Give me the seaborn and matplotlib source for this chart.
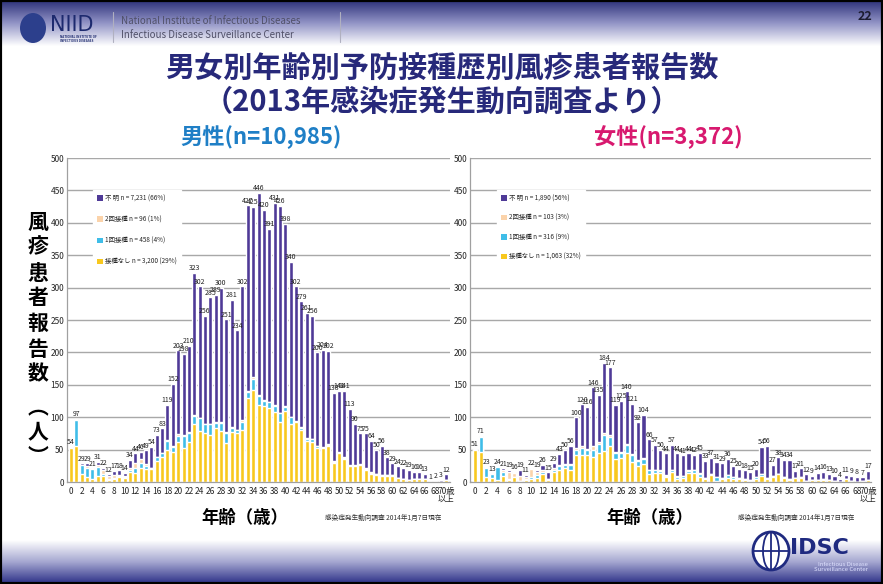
import numpy as np
import matplotlib
matplotlib.use("Agg")
import matplotlib.pyplot as plt
from matplotlib.patches import Patch, Ellipse, Rectangle
from matplotlib.lines import Line2D
from matplotlib.colors import LinearSegmentedColormap
import seaborn as sns

sns.set_theme(style="white")
plt.rcParams['font.family'] = ['Noto Sans CJK JP', 'DejaVu Sans']

# ---- data (年齢 0..69, 70歳以上) ----
ages = [str(a) for a in range(70)] + ["70+"]
tick_labels = [str(a) for a in range(0, 70, 2)] + ["70歳\n以上"]

# 男性
male_total = [54, 97, 29, 29, 21, 31, 22, 12, 17, 18, 14, 34, 44, 46, 49, 54, 73, 83, 119, 152,
              203, 198, 210, 323, 302, 256, 285, 289, 300, 251, 281, 234, 302, 427, 425, 446, 420, 391, 431, 426,
              398, 340, 302, 279, 261, 256, 200, 204, 202, 138, 141, 141, 113, 90, 75, 75, 64, 50, 56, 38,
              29, 24, 22, 19, 16, 16, 13, 1, 2, 3, 12]
male_none = [53, 56, 12, 8, 5, 10, 9, 3, 4, 7, 6, 16, 14, 22, 20, 20, 33, 38, 50, 47,
             62, 53, 62, 89, 78, 75, 72, 83, 79, 60, 77, 75, 81, 129, 142, 119, 118, 114, 108, 92,
             110, 89, 92, 80, 63, 61, 52, 52, 55, 30, 44, 36, 24, 24, 26, 19, 12, 11, 10, 10,
             10, 6, 5, 3, 4, 4, 5, 0, 1, 0, 3]
male_one = [1, 40, 15, 14, 15, 13, 3, 1, 2, 2, 2, 2, 8, 7, 5, 2, 5, 6, 13, 7,
            9, 18, 13, 13, 20, 14, 17, 8, 12, 16, 7, 5, 12, 10, 17, 14, 7, 9, 10, 14,
            6, 11, 1, 4, 4, 5, 3, 1, 2, 1, 1, 1, 1, 1, 1, 1, 2, 1, 1, 1,
            1, 0, 0, 0, 0, 0, 0, 0, 0, 0, 0]
male_two = [0, 0, 0, 2, 0, 3, 7, 5, 5, 2, 1, 4, 8, 6, 3, 0, 1, 1, 2, 2,
            3, 1, 2, 2, 1, 1, 1, 1, 1, 1, 1, 1, 3, 1, 3, 1, 1, 1, 1, 1,
            1, 1, 1, 1, 1, 1, 1, 1, 1, 1, 1, 1, 1, 1, 1, 1, 1, 0, 0, 0,
            0, 0, 0, 0, 0, 0, 0, 0, 0, 0, 0]

# 女性
female_total = [51, 71, 23, 13, 24, 21, 19, 16, 19, 11, 22, 19, 26, 15, 29, 43, 50, 56, 100, 120,
                116, 146, 135, 184, 177, 119, 125, 140, 121, 92, 104, 66, 57, 50, 44, 57, 44, 41, 44, 42,
                45, 33, 37, 31, 29, 36, 25, 20, 18, 15, 20, 54, 56, 27, 38, 34, 34, 17, 21, 12,
                9, 14, 16, 13, 10, 4, 11, 9, 8, 7, 17]
female_none = [49, 47, 7, 6, 3, 10, 3, 7, 2, 3, 5, 6, 13, 3, 15, 19, 22, 19, 42, 41,
               41, 38, 45, 48, 55, 35, 37, 44, 31, 25, 28, 12, 14, 14, 8, 16, 5, 6, 14, 14,
               8, 4, 11, 2, 4, 6, 5, 4, 3, 2, 5, 10, 4, 7, 12, 6, 3, 6, 6, 1,
               3, 3, 3, 3, 2, 0, 4, 2, 0, 2, 3]
female_one = [1, 23, 15, 6, 20, 6, 1, 0, 0, 2, 3, 5, 2, 2, 4, 6, 5, 7, 8, 12,
              8, 12, 14, 24, 15, 10, 8, 13, 10, 8, 8, 6, 5, 3, 2, 2, 3, 4, 3, 4,
              5, 2, 2, 5, 2, 5, 3, 2, 1, 1, 2, 3, 2, 3, 1, 2, 2, 0, 1, 0,
              0, 0, 1, 0, 0, 0, 0, 0, 0, 0, 0]
female_two = [0, 0, 0, 0, 0, 2, 12, 7, 7, 3, 12, 4, 3, 0, 2, 1, 1, 2, 3, 3,
              2, 5, 3, 4, 3, 2, 2, 2, 2, 1, 1, 1, 0, 1, 1, 1, 2, 0, 1, 1,
              1, 0, 0, 0, 0, 0, 0, 0, 0, 0, 0, 0, 0, 0, 0, 0, 0, 0, 0, 0,
              0, 0, 0, 0, 0, 0, 0, 0, 0, 0, 0]

male_legend = ["不 明 n = 7,231 (66%)", "2回接種 n = 96 (1%)", "1回接種 n = 458 (4%)", "接種なし n = 3,200 (29%)"]
female_legend = ["不 明 n = 1,890 (56%)", "2回接種 n = 103 (3%)", "1回接種 n = 316 (9%)", "接種なし n = 1,063 (32%)"]

c_unknown = "#4f3a97"
c_two = "#fbd3aa"
c_one = "#3fbde8"
c_none = "#f8c81e"
navy = "#27297a"

W, H = 883, 584
def fx(x): return x / W
def fy(y): return 1 - y / H

fig = plt.figure(figsize=(W / 100, H / 100), dpi=100, facecolor="white")

# ヘッダー / フッターのグラデーション
grad = np.linspace(0, 1, 256).reshape(-1, 1)
hdr = fig.add_axes([0, fy(46), 1, 46 / H])
hdr.imshow(grad, aspect="auto", extent=[0, 1, 0, 1],
           cmap=LinearSegmentedColormap.from_list("h", ["#2b2f78", "#9294c6", "#ffffff"]))
hdr.axis("off")
ftr = fig.add_axes([0, 0, 1, 44 / H])
ftr.imshow(grad, aspect="auto", extent=[0, 1, 0, 1],
           cmap=LinearSegmentedColormap.from_list("f", ["#ffffff", "#a4a6d0", "#2a2e86"]))
ftr.axis("off")
fig.add_artist(Rectangle((0, 0), 1, 1, transform=fig.transFigure, fill=False,
                         edgecolor="black", linewidth=3))

# NIID ロゴ
fig.add_artist(Ellipse((fx(33), fy(28)), 26 / W, 30 / H, transform=fig.transFigure,
                       facecolor="#2c3f8c", edgecolor="none"))
fig.text(fx(50), fy(25), "NIID", fontsize=15, color="#1d2a6e", va="center", ha="left",
         family="DejaVu Sans")
fig.text(fx(60), fy(39), "NATIONAL INSTITUTE OF\nINFECTIOUS DISEASES", fontsize=2.2,
         color="#1d2a6e", va="center", ha="left", fontweight="bold")
fig.add_artist(Line2D([fx(113), fx(113)], [fy(12), fy(42)], transform=fig.transFigure,
                      color="#b0b0c0", linewidth=0.8))
fig.add_artist(Line2D([fx(340), fx(340)], [fy(12), fy(42)], transform=fig.transFigure,
                      color="#b0b0c0", linewidth=0.8))
fig.text(fx(121), fy(21), "National Institute of Infectious Diseases", fontsize=7,
         color="#505068", va="center", ha="left")
fig.text(fx(121), fy(35), "Infectious Disease Surveillance Center", fontsize=7,
         color="#505068", va="center", ha="left")
fig.text(fx(872), fy(16), "22", fontsize=9, color="#1c1c30", fontweight="bold",
         va="center", ha="right")

# タイトル
fig.text(0.5, fy(68), "男女別年齢別予防接種歴別風疹患者報告数", fontsize=21, fontweight="bold",
         color=navy, ha="center", va="center")
fig.text(0.5, fy(102), "（2013年感染症発生動向調査より）", fontsize=21, fontweight="bold",
         color=navy, ha="center", va="center")
fig.text(fx(261), fy(137), "男性(n=10,985)", fontsize=16, fontweight="bold",
         color="#1f7fc6", ha="center", va="center")
fig.text(fx(668), fy(137), "女性(n=3,372)", fontsize=16, fontweight="bold",
         color="#d8196f", ha="center", va="center")

# 縦書きの軸ラベル
ylab_chars = ["風", "疹", "患", "者", "報", "告", "数", "︵", "人", "︶"]
ylab_pos = [222, 247, 273, 298, 323, 349, 374, 408, 432, 456]
for ch, yy in zip(ylab_chars, ylab_pos):
    fig.text(fx(38), fy(yy), ch, fontsize=15, fontweight="bold", color="black",
             ha="center", va="center")

narrow = ["Liberation Sans Narrow", "Noto Sans CJK JP"]


def draw_panel(ax, total, none, one, two, labels, xlim, spacing):
    none = np.array(none)
    one = np.array(one)
    two = np.array(two)
    # 積み上げ: 背面から順に描く
    sns.barplot(x=ages, y=total, order=ages, color=c_unknown, width=0.74,
                saturation=1, ax=ax, zorder=2)
    sns.barplot(x=ages, y=none + one + two, order=ages, color=c_two, width=0.74,
                saturation=1, ax=ax, zorder=2)
    sns.barplot(x=ages, y=none + one, order=ages, color=c_one, width=0.74,
                saturation=1, ax=ax, zorder=2)
    sns.barplot(x=ages, y=none, order=ages, color=c_none, width=0.74,
                saturation=1, ax=ax, zorder=2)
    ax.bar_label(ax.containers[0], fontsize=5, padding=0.5, family=narrow, color="#222222")

    ax.set_ylim(0, 500)
    ax.set_xlim(*xlim)
    ax.set_yticks(range(0, 501, 50))
    ax.set_xticks(range(0, 71, 2))
    ax.set_xticklabels(tick_labels, family=narrow, fontsize=6, linespacing=0.9)
    for t in ax.get_yticklabels():
        t.set_family(narrow)
    ax.tick_params(axis="y", labelsize=6, length=0, pad=2)
    ax.tick_params(axis="x", labelsize=6, length=2, pad=1.5, color="#999999")
    ax.yaxis.grid(True, color="#a8a8a8", linewidth=1)
    ax.set_axisbelow(True)
    for s in ["top", "right"]:
        ax.spines[s].set_visible(False)
    for s in ["left", "bottom"]:
        ax.spines[s].set_color("#a0a0a0")
        ax.spines[s].set_linewidth(0.9)
    ax.set_xlabel("")
    ax.set_ylabel("")
    ax.set_facecolor("white")

    handles = [Patch(facecolor=c, edgecolor="none") for c in [c_unknown, c_two, c_one, c_none]]
    leg = ax.legend(handles, labels, loc="upper left", bbox_to_anchor=(0.06, 0.91),
                    fontsize=4.6, frameon=True, facecolor="white", edgecolor="white",
                    framealpha=1, handlelength=0.9, handleheight=0.9, handletextpad=0.4,
                    labelspacing=spacing, borderpad=0.6, fancybox=False)
    leg.set_zorder(5)


ax_m = fig.add_axes([fx(67), fy(482), 382.5 / W, 324 / H])
draw_panel(ax_m, male_total, male_none, male_one, male_two, male_legend, (-0.75, 70.65), 2.05)

ax_f = fig.add_axes([fx(470), fy(482), 401 / W, 324 / H])
draw_panel(ax_f, female_total, female_none, female_one, female_two, female_legend, (-0.9, 70.5), 1.8)

# 横軸ラベルと注記
for cx, nx in [(245, 325), (650, 738)]:
    fig.text(fx(cx), fy(518), "年齢（歳）", fontsize=12.5, fontweight="bold", color="black",
             ha="center", va="center")
    fig.text(fx(nx), fy(518), "感染症発生動向調査 2014年1月7日現在", fontsize=4.8,
             color="#333333", ha="left", va="center")

# IDSC ロゴ
fig.add_artist(Ellipse((fx(771), fy(551)), 36 / W, 38 / H, transform=fig.transFigure,
                       facecolor="white", edgecolor="#1f2a80", linewidth=2))
fig.add_artist(Ellipse((fx(771), fy(551)), 16 / W, 38 / H, transform=fig.transFigure,
                       facecolor="none", edgecolor="#1f2a80", linewidth=1.3))
fig.add_artist(Line2D([fx(753), fx(789)], [fy(551), fy(551)], transform=fig.transFigure,
                      color="#1f2a80", linewidth=1.3))
fig.add_artist(Line2D([fx(771), fx(771)], [fy(532), fy(570)], transform=fig.transFigure,
                      color="#1f2a80", linewidth=1.3))
fig.text(fx(790), fy(548), "IDSC", fontsize=16, fontweight="bold", color="#1f2a80",
         ha="left", va="center", family="DejaVu Sans")
fig.text(fx(868), fy(567), "Infectious Disease\nSurveillance Center", fontsize=4.3,
         color="#dfe2ff", ha="right", va="center", linespacing=1.0)

fig.savefig("out.png", dpi=100, facecolor="white")
